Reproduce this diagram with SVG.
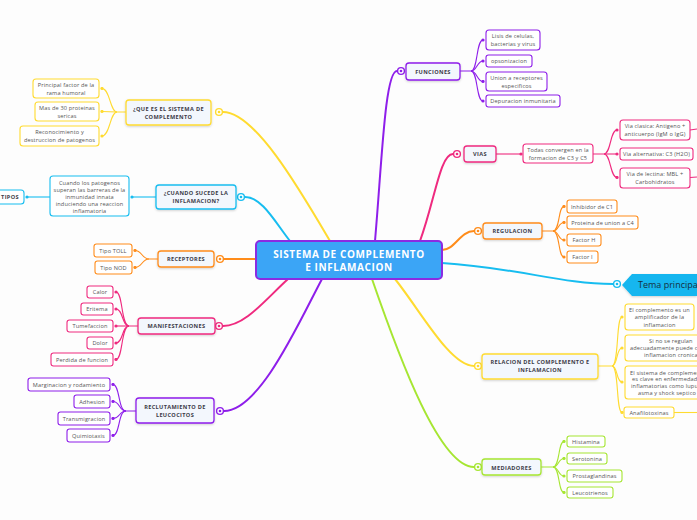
<svg xmlns="http://www.w3.org/2000/svg" width="697" height="520" viewBox="0 0 697 520">
<style>
.bg{fill:#fdfdfd}
.t{font-family:"Open Sans","Noto Sans",sans-serif;font-size:5.6px;fill:#555;text-anchor:middle;letter-spacing:0.15px}
.ts{font-family:"Open Sans","Noto Sans",sans-serif;font-size:5.6px;fill:#555;letter-spacing:0.15px}
.h{font-family:"Open Sans","Noto Sans",sans-serif;font-size:5.6px;font-weight:700;fill:#3c3c48;text-anchor:middle;letter-spacing:0.35px}
.main{font-family:"Open Sans","Noto Sans",sans-serif;font-size:10px;font-weight:700;fill:#fff;text-anchor:middle;letter-spacing:0.6px}
.hn{fill:#f3f7fd;stroke-width:1.3;filter:url(#sh)}
.cn{fill:#fff;stroke-width:1.1}
.ml{fill:none;stroke-width:2}
.cl{fill:none;stroke-width:1.1}
.y{stroke:#ffdb30}.c{stroke:#17bdf0}.o{stroke:#ff8c1a}.p{stroke:#ef2a7f}.v{stroke:#8e1eea}.l{stroke:#a6e632}
.yf{fill:#ffdb30}.cf{fill:#17bdf0}.of{fill:#ff8c1a}.pf{fill:#ef2a7f}.vf{fill:#8e1eea}.lf{fill:#a6e632}
.ring{fill:#fff;stroke-width:1.4}
</style>
<defs>
<filter id="sh" x="-20%" y="-30%" width="140%" height="170%"><feDropShadow dx="0" dy="1" stdDeviation="1" flood-color="#000" flood-opacity="0.18"/></filter>
<marker id="my" markerWidth="4" markerHeight="4" refX="2" refY="2" markerUnits="userSpaceOnUse"><circle cx="2" cy="2" r="1.6" fill="#ffdb30"/></marker>
<marker id="mc" markerWidth="4" markerHeight="4" refX="2" refY="2" markerUnits="userSpaceOnUse"><circle cx="2" cy="2" r="1.6" fill="#17bdf0"/></marker>
<marker id="mo" markerWidth="4" markerHeight="4" refX="2" refY="2" markerUnits="userSpaceOnUse"><circle cx="2" cy="2" r="1.6" fill="#ff8c1a"/></marker>
<marker id="mp" markerWidth="4" markerHeight="4" refX="2" refY="2" markerUnits="userSpaceOnUse"><circle cx="2" cy="2" r="1.6" fill="#ef2a7f"/></marker>
<marker id="mv" markerWidth="4" markerHeight="4" refX="2" refY="2" markerUnits="userSpaceOnUse"><circle cx="2" cy="2" r="1.6" fill="#8e1eea"/></marker>
<marker id="ml" markerWidth="4" markerHeight="4" refX="2" refY="2" markerUnits="userSpaceOnUse"><circle cx="2" cy="2" r="1.6" fill="#a6e632"/></marker>
</defs>
<rect class="bg" x="0" y="0" width="697" height="520"/>

<g id="connectors">
<!-- main branches -->
<path class="ml y" d="M330,241 C300,190 255,112 223,112"/>
<path class="ml c" d="M290,241 C275,222 262,197 245,197"/>
<path class="ml o" d="M256,259 L224,259"/>
<path class="ml p" d="M288,279 C265,300 245,326 223,326"/>
<path class="ml v" d="M322,279 C300,320 260,411 224,411"/>
<path class="ml v" d="M375,241 C382,160 385,71 397,71"/>
<path class="ml p" d="M420,241 C435,200 440,154 453,154"/>
<path class="ml o" d="M442,250 C455,250 460,231 474,231"/>
<path class="ml c" d="M442,263 C520,268 560,284 613,284"/>
<path class="ml y" d="M395,279 C420,310 450,366 474,366"/>
<path class="ml l" d="M372,279 C400,360 440,467 474,467"/>
<!-- child connectors -->
<g marker-end="url(#my)">
<path class="cl y" d="M126,112 L117,112 C110,112 110,88.5 102,88.5"/>
<path class="cl y" d="M117,112 L102,111.5"/>
<path class="cl y" d="M117,112 C110,112 110,136 102,136"/>
</g>
<g marker-end="url(#mc)">
<path class="cl c" d="M156,197 L132,197"/>
<path class="cl c" d="M50,197 L27,197"/>
</g>
<g marker-end="url(#mo)">
<path class="cl o" d="M158,259 L149,259 C142,259 142,250.5 135,250.5"/>
<path class="cl o" d="M149,259 C142,259 142,267.5 135,267.5"/>
</g>
<g marker-end="url(#mp)">
<path class="cl p" d="M138,326 L129,326 C121,326 123,292 116,292"/>
<path class="cl p" d="M129,326 C122,326 123,309 116,309"/>
<path class="cl p" d="M129,326 L116,326"/>
<path class="cl p" d="M129,326 C122,326 123,343 116,343"/>
<path class="cl p" d="M129,326 C121,326 123,359.5 116,359.5"/>
</g>
<g marker-end="url(#mv)">
<path class="cl v" d="M136,411 L126,411 C118,411 120,384.5 113,384.5"/>
<path class="cl v" d="M126,411 C119,411 120,401.5 113,401.5"/>
<path class="cl v" d="M126,411 C119,411 120,418.5 113,418.5"/>
<path class="cl v" d="M126,411 C118,411 120,435.5 113,435.5"/>
<path class="cl v" d="M460,71 L471,71 C478,71 476,40 483,40"/>
<path class="cl v" d="M471,71 C477,71 477,61 483,61"/>
<path class="cl v" d="M471,71 C477,71 477,81.5 483,81.5"/>
<path class="cl v" d="M471,71 C478,71 476,101 483,101"/>
</g>
<g marker-end="url(#mp)">
<path class="cl p" d="M496,154 L521,154"/>
<path class="cl p" d="M593,154 L604,154 C611,154 610,130 617,130"/>
<path class="cl p" d="M604,154 L617,154"/>
<path class="cl p" d="M604,154 C611,154 610,177.5 617,177.5"/>
</g>
<path class="cl p" d="M690,130 L697,129"/>
<path class="cl p" d="M690,177.5 L697,177"/>
<g marker-end="url(#mo)">
<path class="cl o" d="M542,231 L553,231 C560,231 558,206.5 564,206.5"/>
<path class="cl o" d="M553,231 C559,231 558,222.5 564,222.5"/>
<path class="cl o" d="M553,231 C559,231 558,240 564,240"/>
<path class="cl o" d="M553,231 C560,231 558,257 564,257"/>
</g>
<g marker-end="url(#my)">
<path class="cl y" d="M598,366 L612,366 C619,366 616,317 622,317"/>
<path class="cl y" d="M612,366 C618,366 616,348 622,348"/>
<path class="cl y" d="M612,366 C618,366 616,382 622,382"/>
<path class="cl y" d="M612,366 C619,366 616,412.5 622,412.5"/>
</g>
<path class="cl y" d="M674,412.5 L697,412.5"/>
<g marker-end="url(#ml)">
<path class="cl l" d="M541,467 L553,467 C560,467 558,441.5 564,441.5"/>
<path class="cl l" d="M553,467 C559,467 558,458.5 564,458.5"/>
<path class="cl l" d="M553,467 C559,467 558,476 564,476"/>
<path class="cl l" d="M553,467 C560,467 558,492.5 564,492.5"/>
</g>
<!-- rings -->
<circle class="ring y" cx="219" cy="112" r="3.4"/><circle class="yf" cx="219" cy="112" r="1.3"/>
<circle class="ring c" cx="241" cy="197" r="3.4"/><circle class="cf" cx="241" cy="197" r="1.3"/>
<circle class="ring o" cx="220" cy="259" r="3.4"/><circle class="of" cx="220" cy="259" r="1.3"/>
<circle class="ring p" cx="219" cy="326" r="3.4"/><circle class="pf" cx="219" cy="326" r="1.3"/>
<circle class="ring v" cx="220" cy="411" r="3.4"/><circle class="vf" cx="220" cy="411" r="1.3"/>
<circle class="ring v" cx="401" cy="71" r="3.4"/><circle class="vf" cx="401" cy="71" r="1.3"/>
<circle class="ring p" cx="457" cy="154" r="3.4"/><circle class="pf" cx="457" cy="154" r="1.3"/>
<circle class="ring o" cx="478" cy="231" r="3.4"/><circle class="of" cx="478" cy="231" r="1.3"/>
<circle class="ring c" cx="617" cy="284" r="3.4"/><circle class="cf" cx="617" cy="284" r="1.3"/>
<circle class="ring y" cx="478" cy="366" r="3.4"/><circle class="yf" cx="478" cy="366" r="1.3"/>
<circle class="ring l" cx="478" cy="467" r="3.4"/><circle class="lf" cx="478" cy="467" r="1.3"/>
</g>

<g id="central">
<rect x="256" y="241" width="186" height="38" rx="4" fill="#3ba5f6" stroke="#8b2be2" stroke-width="2"/>
<text class="main" x="349" y="258">SISTEMA DE COMPLEMENTO</text>
<text class="main" x="349" y="271">E INFLAMACION</text>
</g>

<g id="tema-principal">
<path d="M622,285 L632,274 L697,274 L697,296 L632,296 Z" fill="#12b6ef" filter="url(#sh)"/>
<text x="638" y="288" font-family="'Open Sans','Noto Sans',sans-serif" font-size="9" fill="#15303f">Tema principal</text>
</g>

<g id="que-es">
<rect class="hn y" x="126" y="100" width="85" height="25" rx="3"/>
<text class="h" x="168.5" y="110.5">¿QUE ES EL SISTEMA DE</text>
<text class="h" x="168.5" y="118.5">COMPLEMENTO</text>
</g>
<g id="qe1"><rect class="cn y" x="33" y="79" width="66" height="19" rx="3"/><text class="t" x="66" y="87">Principal factor de la</text><text class="t" x="66" y="94.5">rama humoral</text></g>
<g id="qe2"><rect class="cn y" x="35" y="102" width="64" height="19" rx="3"/><text class="t" x="67" y="110">Mas de 30 proteinas</text><text class="t" x="67" y="117.5">sericas</text></g>
<g id="qe3"><rect class="cn y" x="20" y="126" width="79" height="20" rx="3"/><text class="t" x="59.5" y="134">Reconocimiento y</text><text class="t" x="59.5" y="141.5">destruccion de patogenos</text></g>

<g id="cuando">
<rect class="hn c" x="156" y="185" width="80" height="24" rx="3"/>
<text class="h" x="196" y="195">¿CUANDO SUCEDE LA</text>
<text class="h" x="196" y="202.5">INFLAMACION?</text>
</g>
<g id="cu1"><rect class="cn c" x="50" y="176" width="79" height="40" rx="3"/>
<text class="t" x="89.5" y="185.3">Cuando los patogenos</text>
<text class="t" x="89.5" y="192.3">superan las barreras de la</text>
<text class="t" x="89.5" y="199.3">inmunidad innata</text>
<text class="t" x="89.5" y="206.3">induciendo una reaccion</text>
<text class="t" x="89.5" y="213.3">inflamatoria</text></g>
<g id="tipos"><rect class="cn c" x="-3" y="190" width="27" height="14" rx="3"/><text class="h" x="10" y="199">TIPOS</text></g>

<g id="receptores"><rect class="hn o" x="158" y="251" width="56" height="16" rx="3"/><text class="h" x="186" y="261">RECEPTORES</text></g>
<g id="re1"><rect class="cn o" x="94" y="244" width="38" height="13" rx="2.5"/><text class="t" x="113" y="252.5">Tipo TOLL</text></g>
<g id="re2"><rect class="cn o" x="95" y="261" width="37" height="13" rx="2.5"/><text class="t" x="113.5" y="269.5">Tipo NOD</text></g>

<g id="manifestaciones"><rect class="hn p" x="138" y="318" width="77" height="16" rx="3"/><text class="h" x="176.5" y="328">MANIFESTACIONES</text></g>
<g id="ma1"><rect class="cn p" x="87" y="286" width="26" height="12" rx="2.5"/><text class="t" x="100" y="294">Calor</text></g>
<g id="ma2"><rect class="cn p" x="81" y="303" width="32" height="12" rx="2.5"/><text class="t" x="97" y="311">Eritema</text></g>
<g id="ma3"><rect class="cn p" x="67" y="320" width="46" height="12" rx="2.5"/><text class="t" x="90" y="328">Tumefaccion</text></g>
<g id="ma4"><rect class="cn p" x="87" y="337" width="26" height="12" rx="2.5"/><text class="t" x="100" y="345">Dolor</text></g>
<g id="ma5"><rect class="cn p" x="51" y="353" width="62" height="13" rx="2.5"/><text class="t" x="82" y="361.5">Perdida de funcion</text></g>

<g id="reclutamiento"><rect class="hn v" x="136" y="398" width="78" height="25" rx="3"/>
<text class="h" x="175" y="408.5">RECLUTAMIENTO DE</text><text class="h" x="175" y="416.5">LEUCOCITOS</text></g>
<g id="rc1"><rect class="cn v" x="28" y="378" width="82" height="13" rx="2.5"/><text class="t" x="69" y="386.5">Marginacion y rodamiento</text></g>
<g id="rc2"><rect class="cn v" x="74" y="395" width="36" height="13" rx="2.5"/><text class="t" x="92" y="403.5">Adhesion</text></g>
<g id="rc3"><rect class="cn v" x="58" y="412" width="52" height="13" rx="2.5"/><text class="t" x="84" y="420.5">Transmigracion</text></g>
<g id="rc4"><rect class="cn v" x="67" y="429" width="43" height="13" rx="2.5"/><text class="t" x="88.5" y="437.5">Quimiotaxis</text></g>

<g id="funciones"><rect class="hn v" x="406" y="63" width="54" height="17" rx="3"/><text class="h" x="433" y="73.5">FUNCIONES</text></g>
<g id="fu1"><rect class="cn v" x="486" y="30" width="54" height="20" rx="3"/><text class="t" x="513" y="38">Lisis de celulas,</text><text class="t" x="513" y="45.5">bacterias y virus</text></g>
<g id="fu2"><rect class="cn v" x="486" y="55" width="46" height="12" rx="2.5"/><text class="t" x="509" y="63">opsonizacion</text></g>
<g id="fu3"><rect class="cn v" x="486" y="72" width="61" height="19" rx="3"/><text class="t" x="516.5" y="80">Union a receptores</text><text class="t" x="516.5" y="87.5">especificos</text></g>
<g id="fu4"><rect class="cn v" x="486" y="95" width="74" height="12" rx="2.5"/><text class="t" x="523" y="103">Depuracion inmunitaria</text></g>

<g id="vias"><rect class="hn p" x="464" y="146" width="32" height="16" rx="3"/><text class="h" x="480" y="156">VIAS</text></g>
<g id="vi0"><rect class="cn p" x="523" y="144" width="70" height="19" rx="3"/><text class="t" x="558" y="152">Todas convergen en la</text><text class="t" x="558" y="159.5">formacion de C3 y C5</text></g>
<g id="vi1"><rect class="cn p" x="620" y="120" width="70" height="20" rx="3"/><text class="t" x="655" y="128">Via clasica: Antigeno +</text><text class="t" x="655" y="135.5">anticuerpo (IgM o IgG)</text></g>
<g id="vi2"><rect class="cn p" x="620" y="148" width="73" height="12" rx="2.5"/><text class="t" x="656.5" y="156">Via alternativa: C3 (H2O)</text></g>
<g id="vi3"><rect class="cn p" x="620" y="168" width="70" height="20" rx="3"/><text class="t" x="655" y="176">Via de lectina: MBL +</text><text class="t" x="655" y="183.5">Carbohidratos</text></g>

<g id="regulacion"><rect class="hn o" x="483" y="223" width="59" height="16" rx="3"/><text class="h" x="512.5" y="233">REGULACION</text></g>
<g id="rg1"><rect class="cn o" x="567" y="200" width="50" height="13" rx="2.5"/><text class="t" x="592" y="208.5">Inhibidor de C1</text></g>
<g id="rg2"><rect class="cn o" x="567" y="216" width="71" height="13" rx="2.5"/><text class="t" x="602.5" y="224.5">Proteina de union a C4</text></g>
<g id="rg3"><rect class="cn o" x="567" y="234" width="34" height="12" rx="2.5"/><text class="t" x="584" y="242">Factor H</text></g>
<g id="rg4"><rect class="cn o" x="567" y="251" width="31" height="12" rx="2.5"/><text class="t" x="582.5" y="259">Factor I</text></g>

<g id="relacion"><rect class="hn y" x="482" y="354" width="116" height="25" rx="3"/>
<text class="h" x="540" y="364">RELACION DEL COMPLEMENTO E</text><text class="h" x="540" y="372">INFLAMACION</text></g>
<g id="rl1"><rect class="cn y" x="625" y="304" width="69" height="26" rx="3"/>
<text class="t" x="659.5" y="312">El complemento es un</text><text class="t" x="659.5" y="319">amplificador de la</text><text class="t" x="659.5" y="326.5">inflamacion</text></g>
<g id="rl2"><rect class="cn y" x="625" y="335" width="80" height="26" rx="3"/>
<text class="ts" x="649" y="343">Si no se regulan</text><text class="ts" x="630" y="349.5">adecuadamente puede c</text><text class="ts" x="644" y="357">inflamacion cronica</text></g>
<g id="rl3"><rect class="cn y" x="625" y="366" width="80" height="33" rx="3"/>
<text class="ts" x="630" y="374.5">El sistema de complemen</text><text class="ts" x="632" y="381">es clave en enfermedade</text>
<text class="ts" x="631" y="388">inflamatorias como lupu</text><text class="ts" x="638" y="395">asma y shock septico</text></g>
<g id="rl4"><rect class="cn y" x="624" y="407" width="50" height="11" rx="2.5"/><text class="t" x="649" y="414.5">Anafilotoxinas</text></g>

<g id="mediadores"><rect class="hn l" x="482" y="459" width="59" height="16" rx="3"/><text class="h" x="511.5" y="469.5">MEDIADORES</text></g>
<g id="me1"><rect class="cn l" x="567" y="436" width="38" height="11" rx="2.5"/><text class="t" x="586" y="443.5">Histamina</text></g>
<g id="me2"><rect class="cn l" x="567" y="453" width="40" height="11" rx="2.5"/><text class="t" x="587" y="460.5">Serotonina</text></g>
<g id="me3"><rect class="cn l" x="567" y="470" width="55" height="12" rx="2.5"/><text class="t" x="594.5" y="478">Prostaglandinas</text></g>
<g id="me4"><rect class="cn l" x="567" y="487" width="46" height="11" rx="2.5"/><text class="t" x="590" y="494.5">Leucotrienos</text></g>
</svg>
